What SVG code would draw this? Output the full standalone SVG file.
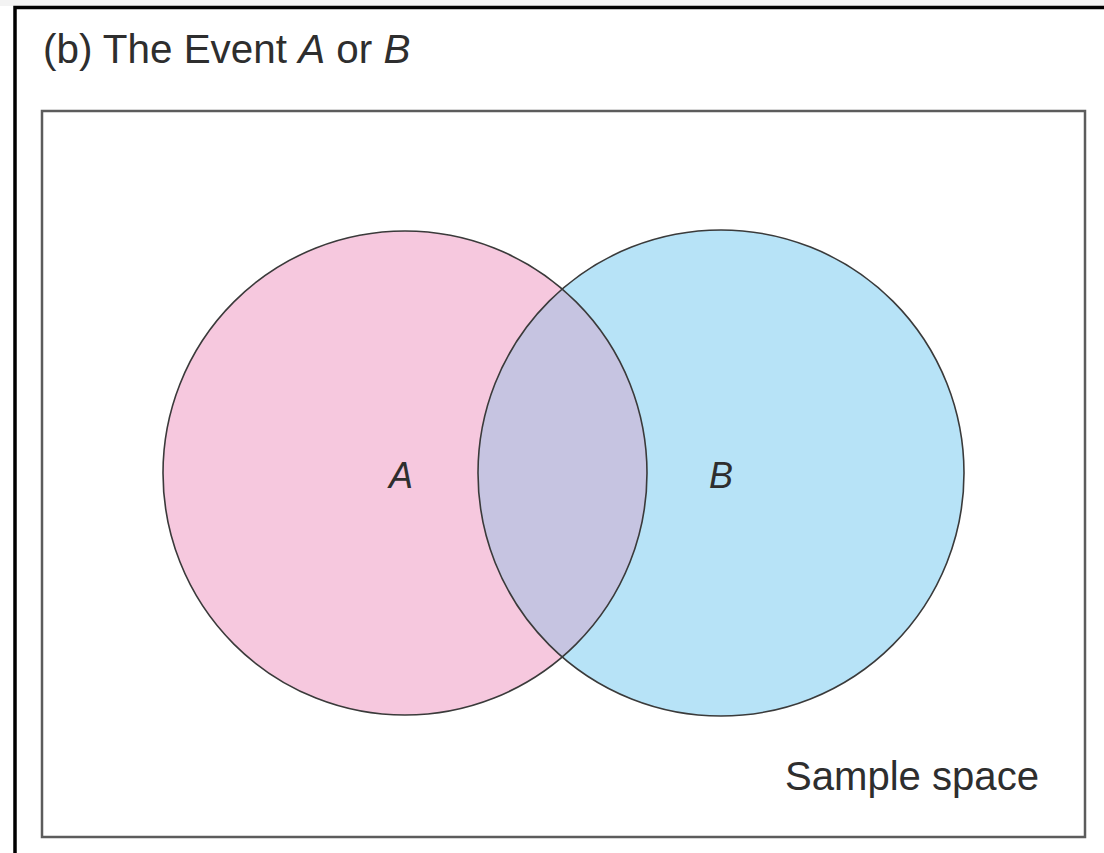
<svg xmlns="http://www.w3.org/2000/svg" width="1104" height="853" viewBox="0 0 1104 853">
  <style>
    .lbl { font-family: "Liberation Sans", Arial, sans-serif; fill: #2e2e2e; }
    .it { font-style: italic; }
    .set { stroke: #3a3a3a; stroke-width: 1.6; }
  </style>
  <defs>
    <clipPath id="clipA">
      <circle cx="405" cy="473" r="242"/>
    </clipPath>
  </defs>
  <rect x="0" y="0" width="1104" height="853" fill="#ffffff"/>
  <rect x="0" y="0" width="1104" height="6" fill="#f3f3f3"/>
  <!-- page frame -->
  <path d="M15,853 V7.5 H1104" fill="none" stroke="#000" stroke-width="3.5"/>

  <text class="lbl" x="43" y="63" font-size="40.4">(b) The Event <tspan class="it">A</tspan> or <tspan class="it">B</tspan></text>

  <!-- sample space -->
  <g id="sample-space">
    <rect x="42" y="111" width="1043" height="726" fill="#ffffff" stroke="#5c5c5c" stroke-width="2.5"/>
    <text class="lbl" x="785" y="790" font-size="40.1">Sample space</text>
  </g>

  <g id="event-A">
    <circle cx="405" cy="473" r="242" fill="#f6c8de"/>
  </g>
  <g id="event-B">
    <circle cx="721" cy="473" r="243" fill="#b7e3f7"/>
  </g>
  <g id="overlap">
    <circle cx="721" cy="473" r="243" fill="#c6c4e1" clip-path="url(#clipA)"/>
  </g>
  <g id="outlines" fill="none">
    <circle class="set" cx="405" cy="473" r="242"/>
    <circle class="set" cx="721" cy="473" r="243"/>
  </g>

  <text class="lbl it" x="389" y="488" font-size="36">A</text>
  <text class="lbl it" x="709" y="488" font-size="36">B</text>
</svg>
